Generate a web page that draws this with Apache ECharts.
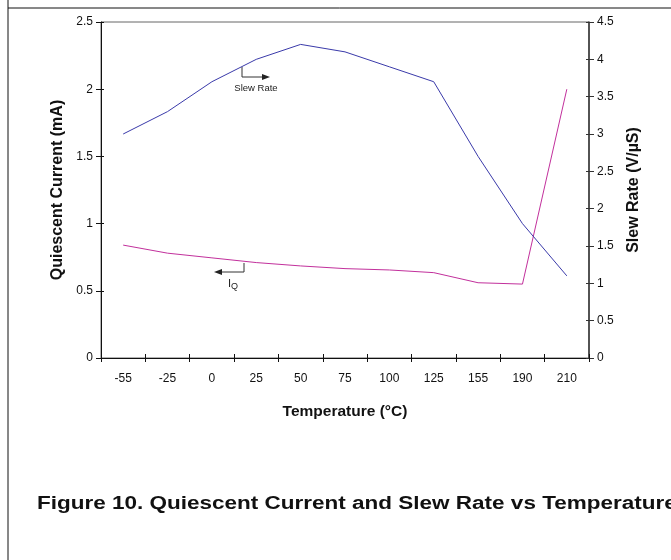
<!DOCTYPE html>
<html>
<head>
<meta charset="utf-8">
<script src="https://cdn.jsdelivr.net/npm/echarts@6/dist/echarts.min.js"></script>
<style>
html,body{margin:0;padding:0;background:#fff;}
#chart{width:671px;height:560px;}
</style>
</head>
<body>
<div id="chart"></div>
<script>
var temperatures = ['-55', '-25', '0', '25', '50', '75', '100', '125', '155', '190', '210'];
var quiescentCurrent = [0.84, 0.78, 0.745, 0.71, 0.685, 0.665, 0.655, 0.635, 0.56, 0.55, 2.0];
var slewRate = [3.0, 3.3, 3.7, 4.0, 4.2, 4.1, 3.9, 3.7, 2.7, 1.8, 1.1];
var leftTicks = {min: 0, max: 2.5, interval: 0.5};
var rightTicks = {min: 0, max: 4.5, interval: 0.5};

var FONT = '"Liberation Sans", Arial, sans-serif';
var chart = echarts.init(document.getElementById('chart'), null, {renderer: 'canvas'});

function yAxisBase(t, pos, color) {
  return {
    type: 'value', min: t.min, max: t.max, interval: t.interval, position: pos,
    axisLine: {show: true, lineStyle: {color: color, width: 1}},
    axisTick: {show: true, length: 5, lineStyle: {color: color}},
    axisLabel: {fontFamily: FONT, fontSize: 12, color: '#111', margin: 8},
    splitLine: {show: false}
  };
}
var yLeft = yAxisBase(leftTicks, 'left', '#111');
yLeft.name = 'Quiescent Current (mA)';
yLeft.nameLocation = 'middle';
yLeft.nameGap = 32;
yLeft.nameRotate = 90;
yLeft.nameTextStyle = {fontFamily: FONT, fontWeight: 'bold', fontSize: 16, color: '#111'};
var yRight = yAxisBase(rightTicks, 'right', '#333');
yRight.name = 'Slew Rate (V/µS)';
yRight.nameLocation = 'middle';
yRight.nameGap = 37;
yRight.nameRotate = 90;
yRight.nameTextStyle = {fontFamily: FONT, fontWeight: 'bold', fontSize: 16, color: '#111'};
yRight.axisLine.lineStyle.width = 1.5;
var yLeftIn = yAxisBase(leftTicks, 'left', '#111');
yLeftIn.axisLine.show = false; yLeftIn.axisLabel = {show: false}; yLeftIn.axisTick.inside = true; yLeftIn.axisTick.length = 3;
var yRightIn = yAxisBase(rightTicks, 'right', '#333');
yRightIn.axisLine.show = false; yRightIn.axisLabel = {show: false}; yRightIn.axisTick.inside = true; yRightIn.axisTick.length = 3;

var option = {
  animation: false,
  backgroundColor: '#fff',
  textStyle: {fontFamily: FONT},
  grid: {left: 101, right: 82, top: 22, bottom: 202, show: true, borderColor: '#666', borderWidth: 1},
  xAxis: [
    {
      type: 'category',
      data: temperatures,
      boundaryGap: true,
      name: 'Temperature (°C)',
      nameLocation: 'middle',
      nameGap: 46,
      nameTextStyle: {fontFamily: FONT, fontWeight: 'bold', fontSize: 15.5, color: '#111'},
      axisLine: {lineStyle: {color: '#111', width: 1}},
      axisTick: {show: true, interval: 0, length: 4, lineStyle: {color: '#111'}},
      axisLabel: {fontFamily: FONT, fontSize: 12, color: '#111', margin: 15, interval: 0},
      splitLine: {show: false}
    },
    {
      type: 'category',
      data: temperatures,
      boundaryGap: true,
      position: 'bottom',
      axisLine: {show: false},
      axisTick: {show: true, inside: true, interval: 0, length: 4, lineStyle: {color: '#111'}},
      axisLabel: {show: false},
      splitLine: {show: false}
    }
  ],
  yAxis: [yLeft, yRight, yLeftIn, yRightIn],
  series: [
    {
      name: 'IQ',
      type: 'line',
      xAxisIndex: 0,
      yAxisIndex: 0,
      data: quiescentCurrent,
      symbol: 'none',
      lineStyle: {color: '#c2309c', width: 1},
      itemStyle: {color: '#c2309c'}
    },
    {
      name: 'Slew Rate',
      type: 'line',
      xAxisIndex: 0,
      yAxisIndex: 1,
      data: slewRate,
      symbol: 'none',
      lineStyle: {color: '#3a3aaa', width: 1},
      itemStyle: {color: '#3a3aaa'}
    }
  ],
  graphic: [
    {type: 'line', shape: {x1: 8, y1: 0, x2: 8, y2: 560}, style: {stroke: '#111', lineWidth: 1}},
    {type: 'line', shape: {x1: 8, y1: 8, x2: 671, y2: 8}, style: {stroke: '#111', lineWidth: 1}},
    {type: 'polyline', shape: {points: [[242, 67], [242, 77], [264, 77]]}, style: {stroke: '#333', lineWidth: 1, fill: null}},
    {type: 'polygon', shape: {points: [[262, 74], [270, 77], [262, 80]]}, style: {fill: '#222'}},
    {type: 'text', x: 256, y: 88, style: {text: 'Slew Rate', font: '9.5px ' + FONT, fill: '#222', textAlign: 'center', textVerticalAlign: 'middle'}},
    {type: 'polyline', shape: {points: [[244, 263], [244, 272], [220, 272]]}, style: {stroke: '#333', lineWidth: 1, fill: null}},
    {type: 'polygon', shape: {points: [[222, 269], [214, 272], [222, 275]]}, style: {fill: '#222'}},
    {type: 'text', x: 228, y: 276, style: {
      text: '{a|I}{b|Q}',
      rich: {a: {fontSize: 11, fontFamily: FONT, fill: '#222'}, b: {fontSize: 9, fontFamily: FONT, fill: '#222', padding: [6, 0, 0, 0]}},
      textVerticalAlign: 'top'}},
    {type: 'text', x: 37, y: 504, scaleX: 1.25, style: {text: 'Figure 10. Quiescent Current and Slew Rate vs Temperature', font: 'bold 18px ' + FONT, fill: '#111', textVerticalAlign: 'middle'}}
  ]
};
chart.setOption(option);
</script>
</body>
</html>
